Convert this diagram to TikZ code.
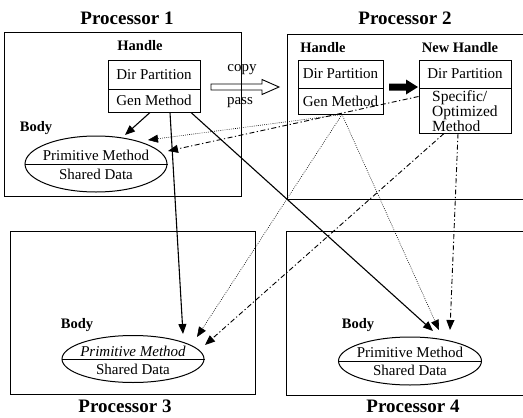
\documentclass[tikz,border=0pt]{standalone}
\usepackage{fontspec}
\setmainfont{Liberation Serif}
\usetikzlibrary{arrows.meta,shapes.geometric,calc}

\begin{document}
\begin{tikzpicture}[x=1pt,y=-1pt,
  procbox/.style={draw,line width=0.9pt,inner sep=0pt},
  title/.style={font=\fontsize{19}{22}\selectfont\bfseries,inner sep=0pt},
  lbl/.style={font=\fontsize{14.5}{17}\selectfont\bfseries,inner sep=0pt},
  txt/.style={font=\fontsize{15}{17}\selectfont,inner sep=0pt},
  cell/.style={draw,line width=1pt,inner sep=0pt,font=\fontsize{15}{17}\selectfont},
  bodyell/.style={draw,ellipse,line width=1pt,inner sep=0pt},
  solidarr/.style={line width=1.1pt,-{Triangle[length=10pt,width=8pt]}},
  dotarr/.style={line width=0.6pt,dash pattern=on 0.8pt off 1.3pt,-{Triangle[length=10pt,width=8pt]}},
  dasharr/.style={line width=0.9pt,dash pattern=on 5pt off 2.5pt on 1.2pt off 2.5pt,-{Triangle[length=10pt,width=8pt]}}
]
\useasboundingbox (0,0) rectangle (523,418);
\clip (0,0) rectangle (523,418);

% processor frames (the right-hand ones run past the page edge)
\node[procbox,minimum width=237pt,minimum height=164pt] (p1) at (122.5,114) {};
\node[procbox,minimum width=260pt,minimum height=165pt] (p2) at (417,116.5) {};
\node[procbox,minimum width=245pt,minimum height=163pt] (p3) at (132.5,312.5) {};
\node[procbox,minimum width=260pt,minimum height=164pt] (p4) at (416,313) {};

% titles
\node[title] (t1) at (127,18) {Processor 1};
\node[title] (t2) at (405,18) {Processor 2};
\node[title] (t3) at (125,406) {Processor 3};
\node[title] (t4) at (413,406) {Processor 4};

% handle on processor 1
\node[lbl] (hl1) at (140,46) {Handle};
\node[cell,minimum width=92pt,minimum height=29pt] (h1a) at (154,74.5) {Dir Partition};
\node[cell,minimum width=92pt,minimum height=23pt] (h1b) at (154,100.5) {Gen Method};

% handle on processor 2
\node[lbl] (hl2) at (323,48) {Handle};
\node[cell,minimum width=85pt,minimum height=28pt] (h2a) at (340.5,74) {Dir Partition};
\node[cell,minimum width=85pt,minimum height=26pt] (h2b) at (340.5,101) {Gen Method};

% new handle on processor 2
\node[lbl] (nhl) at (460,48) {New Handle};
\node[cell,minimum width=92pt,minimum height=28pt] (nha) at (465,74) {Dir Partition};
\node[cell,minimum width=92pt,minimum height=45pt] (nhb) at (465,110.5) {};
\node[font=\fontsize{15.5}{11.5}\selectfont,align=left,inner sep=0pt,anchor=west] (nht) at (432,111.5) {Specific/\\Optimized\\Method};

% copy / pass arrow
\node[txt] (cp) at (242,70) {copy};
\node[txt] (ps) at (240,103) {pass};
\draw[line width=0.9pt,line join=miter] (211,84) -- (262,84) -- (262,79.5) -- (279,87) -- (262,94.5) -- (262,90) -- (211,90) -- cycle;

% specialisation arrow
\fill (389,83.5) -- (406,83.5) -- (406,79.5) -- (418,87) -- (406,94.5) -- (406,90.5) -- (389,90.5) -- cycle;

% bodies
\node[lbl] (bl1) at (36,128) {Body};
\node[bodyell,minimum width=142pt,minimum height=56pt] (e1) at (96,164) {};
\draw[line width=1pt] (e1.west) -- (e1.east);
\node[txt] (e1a) at (96,155) {Primitive Method};
\node[txt] (e1b) at (96,174) {Shared Data};

\node[lbl] (bl3) at (77,325) {Body};
\node[bodyell,minimum width=142pt,minimum height=47pt] (e3) at (133,359) {};
\draw[line width=1pt] (e3.west) -- (e3.east);
\node[txt,font=\fontsize{15}{17}\selectfont\itshape] (e3a) at (133,351) {Primitive Method};
\node[txt] (e3b) at (133,369) {Shared Data};

\node[lbl] (bl4) at (358,325) {Body};
\node[bodyell,minimum width=143pt,minimum height=48pt] (e4) at (410,361) {};
\draw[line width=1pt] (e4.west) -- (e4.east);
\node[txt] (e4a) at (410,352) {Primitive Method};
\node[txt] (e4b) at (410,370) {Shared Data};

% arrow end points just outside the bodies
\coordinate (a1) at (125,135);
\coordinate (a2) at (148,140);
\coordinate (a3) at (168,151);
\coordinate (c1) at (183,334);
\coordinate (c2) at (197,337);
\coordinate (c3) at (205,345);
\coordinate (d1) at (433,331);
\coordinate (d2) at (439,330);
\coordinate (d3) at (450,330);

% generic method calls from processor 1
\draw[solidarr] ([xshift=-4pt]h1b.south) -- (a1);
\draw[solidarr] ([xshift=16pt]h1b.south) -- (c1);
\draw[solidarr] ([xshift=37pt]h1b.south) -- (d1);

% generic method calls from processor 2
\draw[dotarr] ([xshift=1.5pt]h2b.south) -- (a2);
\draw[dotarr] ([xshift=1.5pt]h2b.south) -- (c2);
\draw[dotarr] ([xshift=1.5pt]h2b.south) -- (d2);

% optimized method calls
\draw[dasharr] ([yshift=14pt]nhb.west) -- (a3);
\draw[dasharr] ([xshift=-21pt]nhb.south) -- (c3);
\draw[dasharr] ([xshift=-7pt]nhb.south) -- (d3);
\end{tikzpicture}
\end{document}
